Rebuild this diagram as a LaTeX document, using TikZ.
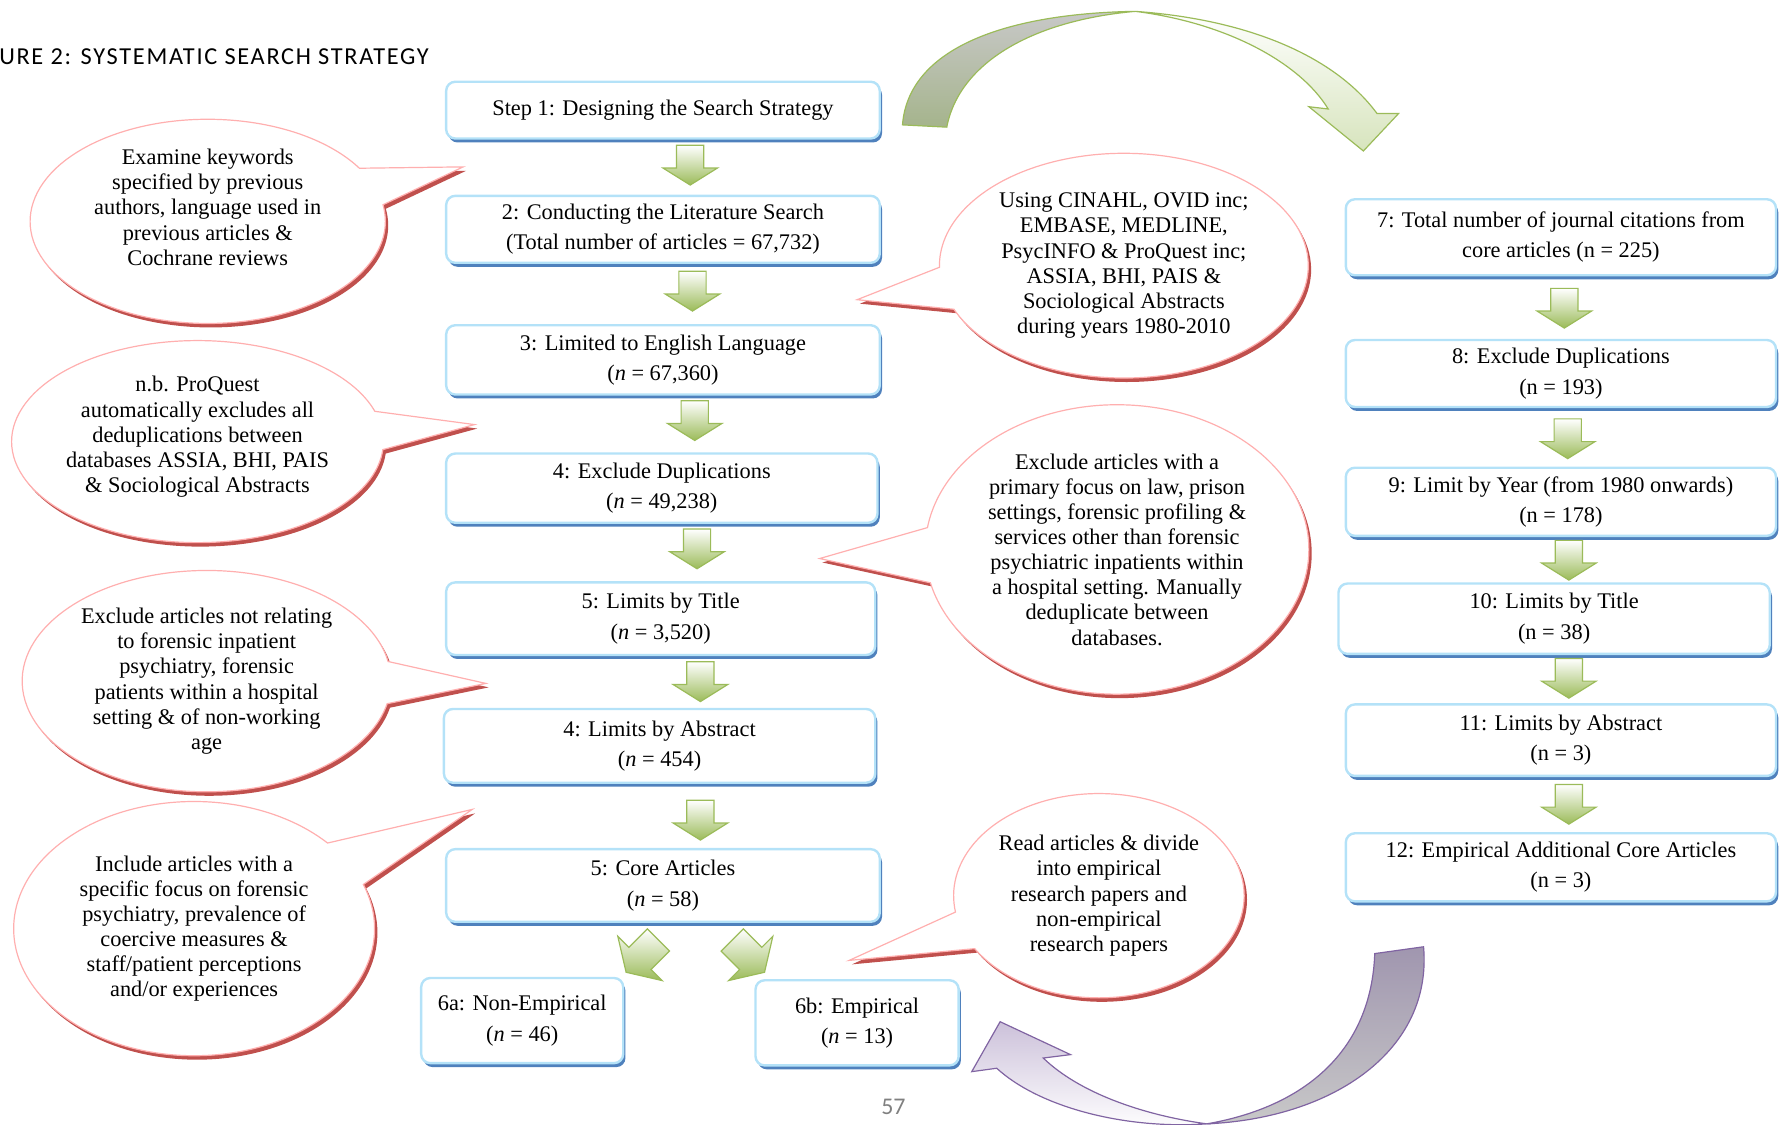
\documentclass[tikz,border=0pt]{standalone}
\usepackage{fontspec}
\setmainfont{Liberation Serif}
\newfontfamily\titlefont[LetterSpace=7]{Carlito}
\newfontfamily\pagefont{Carlito}
\usetikzlibrary{shapes.callouts,shadows}
\definecolor{boxlight}{RGB}{180,226,248}
\definecolor{boxdark}{RGB}{79,129,189}
\definecolor{callpink}{RGB}{255,175,175}
\definecolor{calldark}{RGB}{192,80,77}
\definecolor{arrgreen}{RGB}{155,187,89}
\definecolor{arrlight}{RGB}{215,228,189}
\definecolor{arrgrey}{RGB}{200,200,200}
\definecolor{arrolive}{RGB}{165,180,140}
\definecolor{arrpurple}{RGB}{128,100,162}
\definecolor{arrlav}{RGB}{204,193,218}
\definecolor{arrmauve}{RGB}{160,150,175}
\begin{document}
\begin{tikzpicture}[x=0.02cm,y=-0.02cm]
		\tikzset{stepbox/.style = {draw=boxlight, line width=1.2pt, fill=white, rounded corners=0.16cm, align=center, inner sep=0pt,
				font=\fontsize{11.2}{15.2}\selectfont, general shadow={fill=boxdark, shadow xshift=0.04cm, shadow yshift=-0.07cm}}}
		\tikzset{note/.style = {ellipse callout, draw=callpink, line width=0.6pt, fill=white, align=center, inner sep=0pt, callout pointer arc=22,
				font=\fontsize{11.2}{12.6}\selectfont, general shadow={fill=calldark, shadow xshift=0.05cm, shadow yshift=-0.07cm}}}
		\tikzset{grarrow/.style = {draw=arrgreen, line width=0.6pt, top color=white, bottom color=arrgreen}}
		\tikzset{downarr/.pic = {\draw[grarrow] (-12,0) -- (12,0) -- (12,20) -- (24,20) -- (0,35) -- (-24,20) -- (-12,20) -- cycle;}}

		\useasboundingbox (0,0) rectangle (1568,991);

		\node[anchor=base west, inner sep=0pt, font=\titlefont\fontsize{12.2}{14}\selectfont] (title) at (-1,57) {URE 2: SYSTEMATIC SEARCH STRATEGY};
		\node[text=black!50, font=\pagefont\fontsize{12}{14}\selectfont] (page) at (787,975) {57};

		% callouts
		\coordinate (P_1) at (408,147);
		\coordinate (P_2) at (418,374);
		\coordinate (P_3) at (428,602);
		\coordinate (P_4) at (416,713);
		\coordinate (P_5) at (755,264);
		\coordinate (P_6) at (722,492);
		\coordinate (P_7) at (748,846);

		\node[note, minimum width=6.26cm, minimum height=3.2cm, text depth=0.5cm, callout absolute pointer={(P_1)}] (C_1) at (183,195) {Examine keywords\\specified by previous\\authors, language used in\\previous articles \&\\Cochrane reviews};
		\node[note, minimum width=6.24cm, minimum height=3.56cm, text depth=0.25cm, callout absolute pointer={(P_2)}] (C_2) at (174,389) {n.b. ProQuest\\automatically excludes all\\deduplications between\\databases ASSIA, BHI, PAIS\\\& Sociological Abstracts};
		\node[note, minimum width=6.5cm, minimum height=3.9cm, callout absolute pointer={(P_3)}] (C_3) at (182,600) {Exclude articles not relating\\to forensic inpatient\\psychiatry, forensic\\patients within a hospital\\setting \& of non-working\\age};
		\node[note, minimum width=6.36cm, minimum height=4.48cm, callout absolute pointer={(P_4)}] (C_4) at (171,818) {Include articles with a\\specific focus on forensic\\psychiatry, prevalence of\\coercive measures \&\\staff/patient perceptions\\and/or experiences};
		\node[note, minimum width=6.5cm, minimum height=3.96cm, callout absolute pointer={(P_5)}] (C_5) at (990,234) {Using CINAHL, OVID inc;\\EMBASE, MEDLINE,\\PsycINFO \& ProQuest inc;\\ASSIA, BHI, PAIS \&\\Sociological Abstracts\\during years 1980-2010};
		\node[note, minimum width=6.76cm, minimum height=5.1cm, callout absolute pointer={(P_6)}] (C_6) at (984,484) {Exclude articles with a\\primary focus on law, prison\\settings, forensic profiling \&\\services other than forensic\\psychiatric inpatients within\\a hospital setting. Manually\\deduplicate between\\databases.};
		\node[note, minimum width=5.12cm, minimum height=3.6cm, callout absolute pointer={(P_7)}] (C_7) at (968,789) {Read articles \& divide\\into empirical\\research papers and\\non-empirical\\research papers};

		% left column
		\node[stepbox, minimum width=7.64cm, minimum height=1.0cm] (S_1) at (584,97) {Step 1: Designing the Search Strategy};
		\node[stepbox, minimum width=7.64cm, minimum height=1.18cm] (S_2) at (584,202) {2: Conducting the Literature Search\\(Total number of articles = 67,732)};
		\node[stepbox, minimum width=7.64cm, minimum height=1.22cm] (S_3) at (584,317) {3: Limited to English Language\\(\textit{n} = 67,360)};
		\node[stepbox, minimum width=7.6cm, minimum height=1.22cm] (S_4) at (583,430) {4: Exclude Duplications\\(\textit{n} = 49,238)};
		\node[stepbox, minimum width=7.56cm, minimum height=1.28cm] (S_5) at (582,545) {5: Limits by Title\\(\textit{n} = 3,520)};
		\node[stepbox, minimum width=7.6cm, minimum height=1.3cm] (S_6) at (581,657) {4: Limits by Abstract\\(\textit{n} = 454)};
		\node[stepbox, minimum width=7.64cm, minimum height=1.28cm] (S_7) at (584,780) {5: Core Articles\\(\textit{n} = 58)};
		\node[stepbox, minimum width=3.56cm, minimum height=1.5cm] (S_6a) at (460,899) {6a: Non-Empirical\\(\textit{n} = 46)};
		\node[stepbox, minimum width=3.58cm, minimum height=1.5cm] (S_6b) at (755,901) {6b: Empirical\\(\textit{n} = 13)};

		% right column
		\node[stepbox, minimum width=7.58cm, minimum height=1.34cm] (R_7) at (1375,209) {7: Total number of journal citations from\\core articles (n = 225)};
		\node[stepbox, minimum width=7.58cm, minimum height=1.18cm] (R_8) at (1375,329) {8: Exclude Duplications\\(n = 193)};
		\node[stepbox, minimum width=7.58cm, minimum height=1.2cm] (R_9) at (1375,442) {9: Limit by Year (from 1980 onwards)\\(n = 178)};
		\node[stepbox, minimum width=7.6cm, minimum height=1.24cm] (R_10) at (1369,545) {10: Limits by Title\\(n = 38)};
		\node[stepbox, minimum width=7.58cm, minimum height=1.26cm] (R_11) at (1375,652) {11: Limits by Abstract\\(n = 3)};
		\node[stepbox, minimum width=7.58cm, minimum height=1.2cm] (R_12) at (1375,764) {12: Empirical Additional Core Articles\\(n = 3)};

		% block arrows
		\pic at (608,128) {downarr};
		\pic at (610,239) {downarr};
		\pic at (612,353) {downarr};
		\pic at (614,466) {downarr};
		\pic at (617,583) {downarr};
		\pic at (617,705) {downarr};
		\pic[rotate=-45, scale=1.15] at (580,828) {downarr};
		\pic[rotate=45, scale=1.15] at (645,828) {downarr};
		\pic at (1378,254) {downarr};
		\pic at (1381,369) {downarr};
		\pic at (1382,476) {downarr};
		\pic at (1382,580) {downarr};
		\pic at (1382,691) {downarr};

		% curved arrows
		\draw[draw=arrgreen, line width=0.6pt, top color=arrgrey, bottom color=arrolive]
			(795,110) .. controls (800,45) and (880,12) .. (1000,10) .. controls (910,18) and (845,55) .. (834,112) -- cycle;
		\draw[draw=arrgreen, line width=0.6pt, top color=white, bottom color=arrlight]
			(1000,10) .. controls (1110,18) and (1180,55) .. (1213,100) -- (1232,100) -- (1201,133) -- (1153,94) -- (1170,96) .. controls (1145,55) and (1080,20) .. (1000,10) -- cycle;
		\draw[draw=arrpurple, line width=0.6pt, top color=arrmauve, bottom color=arrgrey]
			(1211,840) -- (1254,834) .. controls (1262,925) and (1175,985) .. (1063,990) .. controls (1150,975) and (1208,925) .. (1211,840) -- cycle;
		\draw[draw=arrpurple, line width=0.6pt, top color=arrlav, bottom color=white]
			(1063,990) .. controls (990,995) and (915,975) .. (878,941) -- (856,944) -- (881,900) -- (943,929) -- (919,932) .. controls (950,962) and (1005,982) .. (1063,990) -- cycle;

	\end{tikzpicture}
\end{document}
